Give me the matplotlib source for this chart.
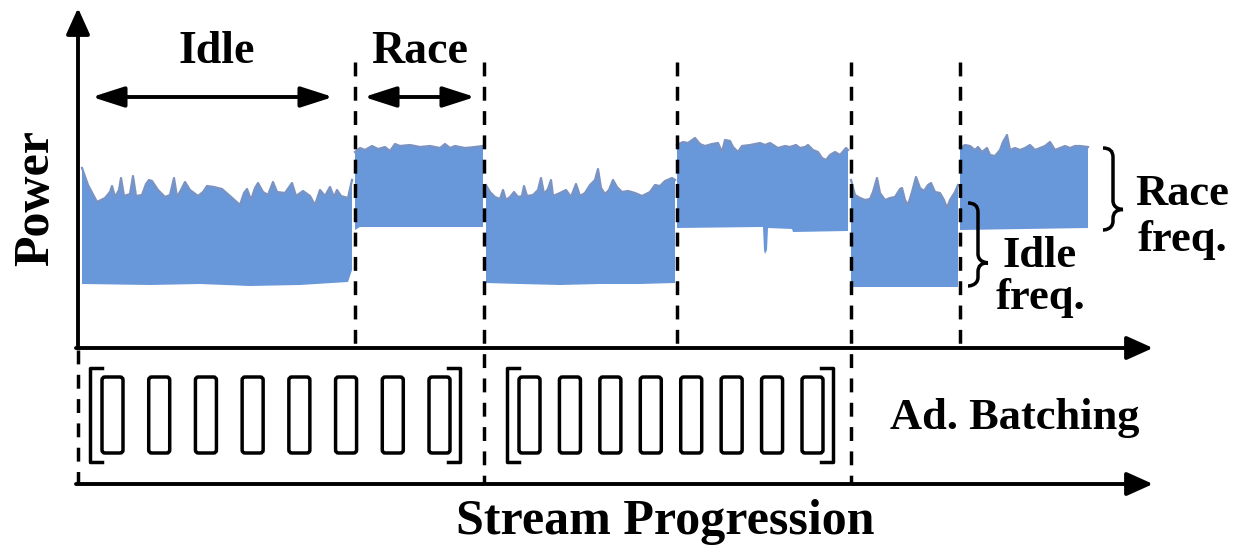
import matplotlib.pyplot as plt
from matplotlib.patches import FancyBboxPatch, PathPatch
from matplotlib.path import Path

# phase boundaries along the stream (image units) and the kind of each phase
phase_edges = [82, 355, 484, 677, 851, 960, 1088]
phase_kind = ['idle', 'race', 'idle', 'race', 'idle', 'race']

# upper envelope of the power trace, one list per phase
top_x = [
    [82, 88, 97, 105, 110, 112, 115, 119, 121, 124, 130, 133, 136, 142, 146, 149, 152, 158, 165, 170,
     174, 177, 181, 185, 190, 198, 203, 207, 214, 222, 230, 240, 244, 247, 251, 255, 258, 263, 268,
     273, 277, 285, 292, 296, 303, 310, 315, 320, 325, 330, 334, 337, 341, 348, 352],
    [355, 360, 365, 372, 378, 385, 390, 395, 400, 410, 420, 430, 440, 445, 450, 455, 465, 475, 483],
    [486, 490, 495, 500, 503, 506, 510, 514, 518, 522, 524, 527, 533, 538, 541, 544, 548, 551, 553,
     560, 566, 571, 576, 580, 585, 590, 595, 598, 601, 605, 609, 613, 617, 622, 628, 635, 642, 650,
     655, 660, 665, 672, 675],
    [677, 683, 688, 695, 700, 705, 712, 718, 722, 725, 730, 733, 738, 742, 750, 760, 765, 770, 778,
     785, 790, 796, 800, 805, 808, 813, 818, 822, 826, 830, 835, 840, 846, 848],
    [851, 855, 860, 865, 870, 873, 877, 880, 885, 890, 895, 900, 902, 905, 908, 912, 916, 920, 924,
     928, 931, 935, 940, 944, 947, 950, 955, 958],
    [960, 965, 970, 975, 978, 982, 987, 990, 995, 1000, 1003, 1007, 1010, 1015, 1020, 1025, 1030,
     1035, 1040, 1045, 1050, 1055, 1060, 1065, 1070, 1075, 1080, 1088],
]
top_y = [
    [168, 185, 202, 198, 192, 186, 197, 190, 178, 196, 194, 176, 196, 195, 184, 180, 181, 190, 197, 195,
     178, 197, 190, 182, 190, 196, 192, 186, 187, 189, 196, 205, 193, 189, 200, 188, 183, 192, 195,
     182, 192, 193, 183, 196, 191, 196, 205, 190, 196, 187, 197, 190, 196, 198, 180],
    [152, 148, 150, 146, 149, 147, 151, 144, 146, 145, 147, 146, 148, 144, 148, 146, 148, 147, 146],
    [185, 192, 197, 199, 190, 200, 197, 192, 197, 196, 186, 196, 195, 190, 178, 194, 189, 180, 196,
     193, 190, 197, 184, 196, 193, 185, 180, 169, 188, 194, 190, 180, 187, 192, 191, 193, 196, 192,
     185, 186, 181, 178, 180],
    [145, 142, 143, 138, 144, 146, 144, 143, 152, 140, 141, 147, 152, 146, 145, 143, 145, 143, 148,
     146, 147, 145, 148, 147, 145, 150, 152, 158, 160, 155, 152, 155, 148, 150],
    [180, 195, 198, 200, 199, 192, 178, 193, 200, 198, 197, 189, 188, 200, 205, 192, 177, 188, 191,
     185, 183, 192, 193, 200, 208, 200, 192, 185],
    [148, 145, 146, 150, 147, 152, 148, 155, 156, 150, 142, 135, 150, 148, 150, 148, 145, 150, 148,
     146, 142, 150, 148, 146, 148, 146, 146, 147],
]
# lower envelope of the power trace
bot_x = [
    [82, 150, 200, 250, 300, 348, 352],
    [355, 360, 483],
    [486, 520, 560, 600, 640, 675],
    [677, 760, 763, 764, 765, 767, 768, 792, 793, 848],
    [851, 958],
    [960, 1088],
]
bot_y = [
    [284, 285, 284, 286, 285, 282, 270],
    [230, 227, 227],
    [283, 284, 285, 284, 284, 283],
    [228, 227, 227, 250, 254, 250, 228, 229, 232, 231],
    [287, 287],
    [230, 228],
]

# ad. batching: batches per group, and the stream span of each group
batch_counts = [8, 8]
group_spans = [(82, 484), (484, 851)]

fig = plt.figure(figsize=(12.35, 5.52), dpi=100)
ax = fig.add_axes([0, 0, 1, 1])
ax.set_xlim(0, 1235)
ax.set_ylim(552, 0)
ax.axis('off')

fill_c = '#6898da'
edge_c = '#7a93c2'
for i in range(len(phase_kind)):
    xs = top_x[i] + bot_x[i][::-1]
    ys = top_y[i] + bot_y[i][::-1]
    ax.fill(xs, ys, color=fill_c, lw=0)
    ax.plot(top_x[i], top_y[i], color=edge_c, lw=1.6)

# axes with arrows
head = '-|>,head_length=1.0,head_width=0.45'
ap = dict(arrowstyle=head, color='k', lw=2.8, mutation_scale=16, shrinkA=0, shrinkB=0)
ax.annotate('', xy=(78, 8), xytext=(78, 348), arrowprops=ap)
ax.annotate('', xy=(1153, 348), xytext=(76, 348), arrowprops=ap)
ax.annotate('', xy=(1153, 484), xytext=(76, 484), arrowprops=ap)

# dashed phase separators
dash = (0, (4, 3))
for k, xb in enumerate(phase_edges[1:-1]):
    low = 484 if phase_edges[k + 1] in (group_spans[0][1], group_spans[1][1]) else 348
    ax.plot([xb, xb], [62, low], color='k', lw=2.5, linestyle=dash)
ax.plot([78, 78], [350, 484], color='k', lw=2.5, linestyle=dash)

# idle / race span arrows
ap2 = dict(arrowstyle='<|-|>,head_length=1.4,head_width=0.45', color='k', lw=2.8,
           mutation_scale=14, shrinkA=0, shrinkB=0)
ax.annotate('', xy=(92, 97), xytext=(333, 97), arrowprops=ap2)
ax.annotate('', xy=(364, 97), xytext=(475, 97), arrowprops=ap2)

font = dict(family='Liberation Serif', weight='bold', color='k')
ax.text(217, 52, 'Idle', ha='center', va='center', fontsize=33, **font)
ax.text(420, 52, 'Race', ha='center', va='center', fontsize=33, **font)
ax.text(36, 198, 'Power', ha='center', va='center', rotation=90, fontsize=36, **font)
ax.text(665, 522, 'Stream Progression', ha='center', va='center', fontsize=36, **font)
ax.text(1015, 418, 'Ad. Batching', ha='center', va='center', fontsize=32, **font)
ax.text(1182, 194, 'Race', ha='center', va='center', fontsize=32, **font)
ax.text(1182, 240, 'freq.', ha='center', va='center', fontsize=32, **font)
ax.text(1040, 256, 'Idle', ha='center', va='center', fontsize=32, **font)
ax.text(1040, 298, 'freq.', ha='center', va='center', fontsize=32, **font)


def brace(x0, w, y0, y1, tip):
    xm = x0 + w / 2
    ym = y0 + (y1 - y0) * tip
    q = 9
    verts = [(x0, y0), (xm, y0), (xm, y0 + q),
             (xm, ym - q),
             (xm, ym), (x0 + w, ym), (x0 + w, ym),
             (xm, ym), (xm, ym + q),
             (xm, y1 - q),
             (xm, y1), (x0, y1), (x0, y1)]
    codes = [Path.MOVETO, Path.CURVE3, Path.CURVE3,
             Path.LINETO,
             Path.CURVE4, Path.CURVE4, Path.CURVE4,
             Path.CURVE3, Path.CURVE3,
             Path.LINETO,
             Path.CURVE4, Path.CURVE4, Path.CURVE4]
    ax.add_patch(PathPatch(Path(verts, codes), fill=False, lw=2.5, color='k'))


brace(1103, 20, 148, 230, 0.75)
brace(968, 20, 203, 286, 0.72)

# batching groups: bracket + rounded batch boxes
gaps = [(102, 450), (519, 823)]
brk = [(90, 460), (507, 833)]
for g in range(len(batch_counts)):
    n = batch_counts[g]
    a, b = gaps[g]
    w = 21
    step = (b - a - w) / (n - 1)
    for j in range(n):
        xl = a + j * step
        ax.add_patch(FancyBboxPatch((xl + 3, 380), w - 6, 70,
                                    boxstyle='round,pad=3,rounding_size=3',
                                    fill=False, lw=2.5, ec='k'))
    l, r = brk[g]
    ax.plot([l + 12, l, l, l + 12], [368, 368, 462, 462], color='k', lw=2.5)
    ax.plot([r - 12, r, r, r - 12], [368, 368, 462, 462], color='k', lw=2.5)

fig.savefig('out.png', dpi=100)
